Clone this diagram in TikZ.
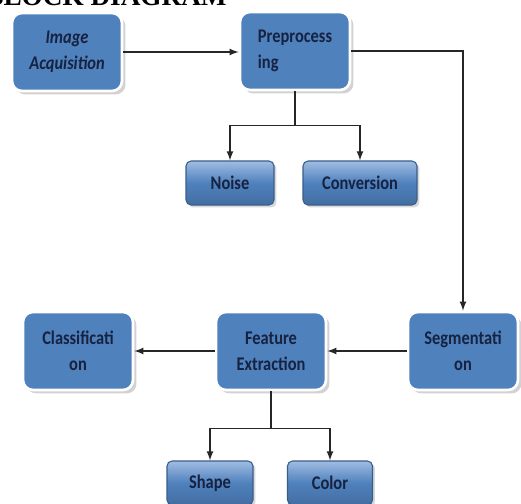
\documentclass[tikz,border=0pt]{standalone}
\usepackage{fontspec}
\setmainfont{Carlito}[FakeStretch=0.85]
\newfontfamily\titlefont{Liberation Serif}
\usetikzlibrary{shadows,arrows}
\definecolor{boxblue}{RGB}{79,129,189}
\definecolor{boxlight}{RGB}{160,188,226}
\definecolor{boxedge}{RGB}{56,93,138}
\definecolor{textnavy}{RGB}{22,34,64}

\begin{document}
\begin{tikzpicture}[x=0.02cm,y=-0.02cm,>=latex]

		\tikzstyle{mainbox}=[rounded corners=0.2cm, fill=boxblue, draw=white, line width=1.5pt, minimum width=2.2cm, minimum height=1.56cm, text=textnavy, font=\bfseries\fontsize{11}{15}\selectfont, align=center, drop shadow={shadow xshift=0.7mm, shadow yshift=-0.7mm, opacity=0.35}]
		\tikzstyle{subbox}=[rounded corners=0.1cm, top color=boxlight, bottom color=boxblue!85!black, middle color=boxblue, draw=boxedge, line width=0.6pt, minimum height=0.88cm, text=textnavy, font=\bfseries\fontsize{11}{15}\selectfont, drop shadow={shadow xshift=0.5mm, shadow yshift=-0.5mm, opacity=0.3}]
		\tikzstyle{link}=[->, line width=0.8pt, black!85]
		\tikzstyle{line}=[line width=0.8pt, black!85]

		\useasboundingbox [fill=white] (0,0) rectangle (521,504);

		%title, cut at the top
		\node [anchor=base west, inner sep=0pt, font=\titlefont\bfseries\fontsize{15.5}{15.5}\selectfont] (title) at (-15,5) {BLOCK DIAGRAM};

		%main boxes
		\node [mainbox, font=\bfseries\itshape\fontsize{11}{15}\selectfont] (acq) at (67,52) {Image\\Acquisition};
		\node [mainbox, align=left] (pre) at (295,51) {Preprocess\\ing};
		\node [mainbox] (cls) at (78,351) {Classificati\\on};
		\node [mainbox] (feat) at (271,351) {Feature\\Extraction};
		\node [mainbox] (seg) at (463,351) {Segmentati\\on};

		%small boxes
		\node [subbox, minimum width=1.76cm] (noise) at (230,183) {Noise};
		\node [subbox, minimum width=2.28cm] (conv) at (360,183) {Conversion};
		\node [subbox, minimum width=1.72cm] (shape) at (210,483) {Shape};
		\node [subbox, minimum width=1.7cm] (color) at (330,483) {Color};

		%arrows along the main flow
		\draw [link] (acq.east) -- (pre.west |- acq.east);
		\draw [link] (pre.east) -| (seg);
		\draw [link] (seg.west) -- (feat.east);
		\draw [link] (feat.west) -- (cls.east);

		%branches
		\draw [line] (pre.south) -- ++(0,34) coordinate (presplit);
		\draw [link] (presplit) -| (noise);
		\draw [link] (presplit) -| (conv);
		\draw [line] (feat.south) -- ++(0,37) coordinate (featsplit);
		\draw [link] (featsplit) -| (shape);
		\draw [link] (featsplit) -| (color);

\end{tikzpicture}
\end{document}
